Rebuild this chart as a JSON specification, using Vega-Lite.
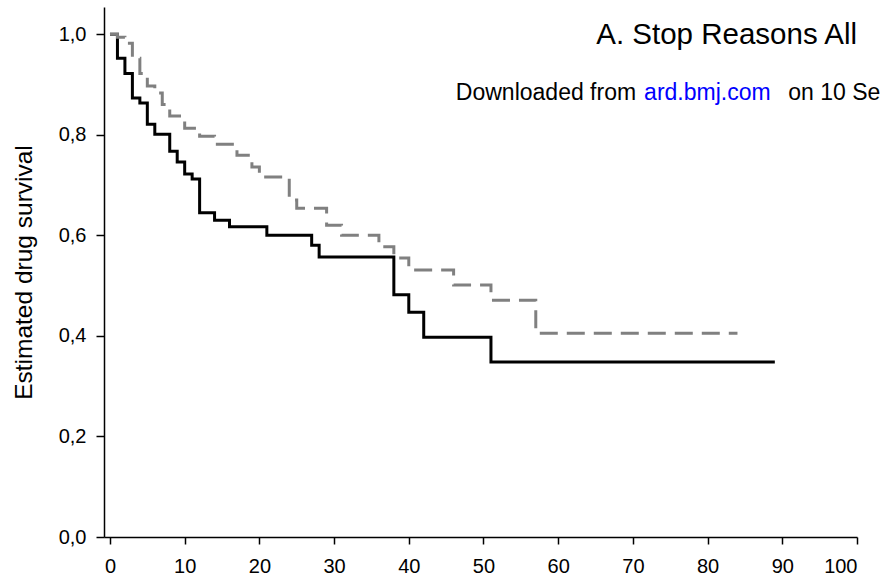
{
  "$schema": "https://vega.github.io/schema/vega-lite/v6.json",
  "width": 753,
  "height": 530,
  "autosize": {"type": "none"},
  "padding": {"left": 104, "top": 7, "right": 23, "bottom": 45},
  "background": "white",
  "config": {
    "view": {"stroke": null},
    "axis": {
      "labelFont": "Liberation Sans",
      "labelFontSize": 20,
      "labelColor": "black",
      "titleFont": "Liberation Sans",
      "titleFontSize": 24.5,
      "titleFontWeight": "normal",
      "titleColor": "black",
      "domainColor": "black",
      "domainWidth": 1.5,
      "tickColor": "black",
      "tickWidth": 1.5,
      "grid": false
    }
  },
  "datasets": {
    "curves": [
      {"t": 0, "s": 1.0, "group": "solid"},
      {"t": 1, "s": 0.952, "group": "solid"},
      {"t": 2, "s": 0.922, "group": "solid"},
      {"t": 3, "s": 0.873, "group": "solid"},
      {"t": 4, "s": 0.863, "group": "solid"},
      {"t": 5, "s": 0.821, "group": "solid"},
      {"t": 6, "s": 0.801, "group": "solid"},
      {"t": 8, "s": 0.767, "group": "solid"},
      {"t": 9, "s": 0.746, "group": "solid"},
      {"t": 10, "s": 0.722, "group": "solid"},
      {"t": 11, "s": 0.712, "group": "solid"},
      {"t": 12, "s": 0.645, "group": "solid"},
      {"t": 14, "s": 0.630, "group": "solid"},
      {"t": 16, "s": 0.617, "group": "solid"},
      {"t": 21, "s": 0.600, "group": "solid"},
      {"t": 27, "s": 0.580, "group": "solid"},
      {"t": 28, "s": 0.557, "group": "solid"},
      {"t": 38, "s": 0.482, "group": "solid"},
      {"t": 40, "s": 0.447, "group": "solid"},
      {"t": 42, "s": 0.397, "group": "solid"},
      {"t": 51, "s": 0.348, "group": "solid"},
      {"t": 89, "s": 0.348, "group": "solid"},
      {"t": 0, "s": 1.0, "group": "dashed"},
      {"t": 1, "s": 0.994, "group": "dashed"},
      {"t": 2, "s": 0.982, "group": "dashed"},
      {"t": 3, "s": 0.952, "group": "dashed"},
      {"t": 4, "s": 0.922, "group": "dashed"},
      {"t": 5, "s": 0.897, "group": "dashed"},
      {"t": 6, "s": 0.883, "group": "dashed"},
      {"t": 7, "s": 0.860, "group": "dashed"},
      {"t": 8, "s": 0.837, "group": "dashed"},
      {"t": 10, "s": 0.813, "group": "dashed"},
      {"t": 12, "s": 0.797, "group": "dashed"},
      {"t": 14, "s": 0.781, "group": "dashed"},
      {"t": 17, "s": 0.759, "group": "dashed"},
      {"t": 19, "s": 0.736, "group": "dashed"},
      {"t": 20, "s": 0.716, "group": "dashed"},
      {"t": 24, "s": 0.670, "group": "dashed"},
      {"t": 25, "s": 0.654, "group": "dashed"},
      {"t": 29, "s": 0.620, "group": "dashed"},
      {"t": 31, "s": 0.600, "group": "dashed"},
      {"t": 36, "s": 0.577, "group": "dashed"},
      {"t": 38, "s": 0.555, "group": "dashed"},
      {"t": 40, "s": 0.531, "group": "dashed"},
      {"t": 46, "s": 0.501, "group": "dashed"},
      {"t": 51, "s": 0.471, "group": "dashed"},
      {"t": 57, "s": 0.405, "group": "dashed"},
      {"t": 84, "s": 0.405, "group": "dashed"}
    ],
    "notes": [
      {"t": 100, "s": 0.98, "label": "A. Stop Reasons All", "kind": "title"},
      {"t": 46.3, "s": 0.869, "label": "Downloaded from", "kind": "plain"},
      {"t": 71.5, "s": 0.869, "label": "ard.bmj.com", "kind": "link"},
      {"t": 90.8, "s": 0.869, "label": "on 10 Se", "kind": "plain"}
    ]
  },
  "encoding": {
    "x": {
      "field": "t",
      "type": "quantitative",
      "scale": {"domain": [-0.8, 100], "nice": false, "zero": false},
      "axis": {
        "title": null,
        "values": [0, 10, 20, 30, 40, 50, 60, 70, 80, 90, 100],
        "tickSize": 7,
        "labelPadding": 12
      }
    },
    "y": {
      "field": "s",
      "type": "quantitative",
      "scale": {"domain": [0, 1.054], "nice": false, "zero": false},
      "axis": {
        "title": "Estimated drug survival",
        "values": [0, 0.2, 0.4, 0.6, 0.8, 1.0],
        "labelExpr": "replace(format(datum.value, '.1f'), '.', ',')",
        "tickSize": 8,
        "labelPadding": 10,
        "titlePadding": 22
      }
    }
  },
  "layer": [
    {
      "data": {"name": "curves"},
      "transform": [{"filter": "datum.group === 'solid'"}],
      "mark": {"type": "line", "interpolate": "step-after", "color": "black", "strokeWidth": 3}
    },
    {
      "data": {"name": "curves"},
      "transform": [{"filter": "datum.group === 'dashed'"}],
      "mark": {"type": "line", "interpolate": "step-after", "color": "#808080", "strokeWidth": 3, "strokeDash": [18, 9]}
    },
    {
      "data": {"name": "notes"},
      "transform": [{"filter": "datum.kind === 'title'"}],
      "mark": {"type": "text", "align": "right", "baseline": "alphabetic", "font": "Liberation Sans", "fontSize": 29.5, "color": "black"},
      "encoding": {"text": {"field": "label"}}
    },
    {
      "data": {"name": "notes"},
      "transform": [{"filter": "datum.kind === 'plain'"}],
      "mark": {"type": "text", "align": "left", "baseline": "alphabetic", "font": "Liberation Sans", "fontSize": 23, "color": "black"},
      "encoding": {"text": {"field": "label"}}
    },
    {
      "data": {"name": "notes"},
      "transform": [{"filter": "datum.kind === 'link'"}],
      "mark": {"type": "text", "align": "left", "baseline": "alphabetic", "font": "Liberation Sans", "fontSize": 23, "color": "#0000ff"},
      "encoding": {"text": {"field": "label"}}
    }
  ]
}
